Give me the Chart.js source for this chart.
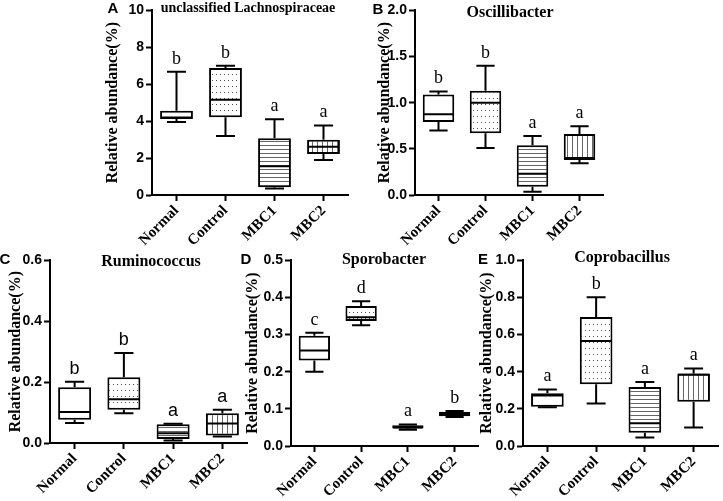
<!DOCTYPE html>
<html>
<head>
<meta charset="utf-8">
<script src="https://cdn.jsdelivr.net/npm/chart.js@4.4.1/dist/chart.umd.min.js"></script>
<style>
  html, body { margin: 0; padding: 0; background: #fff; }
  body { width: 723px; height: 501px; position: relative; overflow: hidden; }
  canvas { position: absolute; }
</style>
</head>
<body>
<canvas id="pA" width="265" height="250" style="left:95px;top:0px"></canvas>
<canvas id="pB" width="255" height="250" style="left:360px;top:0px"></canvas>
<canvas id="pC" width="250" height="251" style="left:0px;top:250px"></canvas>
<canvas id="pD" width="240" height="251" style="left:240px;top:250px"></canvas>
<canvas id="pE" width="247" height="251" style="left:476px;top:250px"></canvas>
<script>
const groups = ["Normal", "Control", "MBC1", "MBC2"];

// A - unclassified Lachnospiraceae
const aMin = [3.95, 3.2, 0.35, 1.9];
const aQ1  = [4.12, 4.21, 0.42, 2.22];
const aMed = [4.2, 5.16, 1.56, 2.61];
const aQ3  = [4.57, 6.88, 3.07, 2.99];
const aMax = [6.67, 7.0, 4.1, 3.77];
const aSig = ["b", "b", "a", "a"];

// B - Oscillibacter
const bMin = [0.70, 0.51, 0.035, 0.345];
const bQ1  = [0.79, 0.67, 0.09, 0.38];
const bMed = [0.875, 1.0, 0.23, 0.40];
const bQ3  = [1.09, 1.13, 0.54, 0.66];
const bMax = [1.12, 1.40, 0.64, 0.745];
const bSig = ["b", "b", "a", "a"];

// C - Ruminococcus
const cMin = [0.066, 0.098, 0.008, 0.021];
const cQ1  = [0.076, 0.109, 0.013, 0.025];
const cMed = [0.102, 0.144, 0.032, 0.064];
const cQ3  = [0.183, 0.216, 0.062, 0.098];
const cMax = [0.201, 0.296, 0.063, 0.109];
const cSig = ["b", "b", "a", "a"];

// D - Sporobacter
const dMin = [0.20, 0.325, 0.044, 0.078];
const dQ1  = [0.23, 0.337, 0.047, 0.080];
const dMed = [0.257, 0.347, 0.050, 0.086];
const dQ3  = [0.297, 0.377, 0.056, 0.092];
const dMax = [0.305, 0.39, 0.058, 0.094];
const dSig = ["c", "d", "a", "b"];

// E - Coprobacillus
const eMin = [0.209, 0.229, 0.046, 0.10];
const eQ1  = [0.212, 0.333, 0.071, 0.238];
const eMed = [0.272, 0.566, 0.122, 0.384];
const eQ3  = [0.284, 0.695, 0.318, 0.39];
const eMax = [0.305, 0.802, 0.345, 0.418];
const eSig = ["a", "b", "a", "a"];

const yTop  = [10, 2.0, 0.6, 0.5, 1.0];
const yStep = [2, 0.5, 0.2, 0.1, 0.2];
const yDec  = [0, 1, 1, 1, 1];
const titles = ["unclassified Lachnospiraceae", "Oscillibacter", "Ruminococcus", "Sporobacter", "Coprobacillus"];
const panelLetters = ["A", "B", "C", "D", "E"];

const SERIF = "'Liberation Serif', 'Times New Roman', serif";
const SANS = "'Liberation Sans', Arial, sans-serif";

function makePattern(w, h, draw) {
    const c = document.createElement("canvas");
    c.width = w; c.height = h;
    const g = c.getContext("2d");
    g.fillStyle = "#fff";
    g.fillRect(0, 0, w, h);
    draw(g);
    return g.createPattern(c, "repeat");
}
const dots = makePattern(4, 6, g => { g.fillStyle = "#555"; g.fillRect(1, 2, 1, 1); });
const hLines = makePattern(4, 4, g => { g.fillStyle = "#666"; g.fillRect(0, 1, 4, 1); });
const vLines = makePattern(5, 4, g => { g.fillStyle = "#666"; g.fillRect(2, 0, 1, 4); });
const fills = ["#fff", dots, hLines, vLines];

// whiskers, medians, letters and titles
const boxExtras = {
    id: "boxExtras",
    afterDatasetsDraw(chart, args, o) {
        const ctx = chart.ctx;
        const x = chart.scales.x, y = chart.scales.y;
        const meta = chart.getDatasetMeta(0);
        ctx.save();
        ctx.strokeStyle = "#000";
        ctx.lineWidth = 2;
        o.mins.forEach((mn, i) => {
            const bar = meta.data[i];
            const cx = x.getPixelForValue(i);
            const half = bar.width / 2;
            const cap = bar.width * 0.29;
            const yMin = y.getPixelForValue(mn);
            const yMax = y.getPixelForValue(o.maxs[i]);
            const yQ1 = y.getPixelForValue(o.q1s[i]);
            const yQ3 = y.getPixelForValue(o.q3s[i]);
            const yMed = y.getPixelForValue(o.meds[i]);
            ctx.beginPath();
            ctx.moveTo(cx, yQ3); ctx.lineTo(cx, yMax);
            ctx.moveTo(cx - cap, yMax); ctx.lineTo(cx + cap, yMax);
            ctx.moveTo(cx, yQ1); ctx.lineTo(cx, yMin);
            ctx.moveTo(cx - cap, yMin); ctx.lineTo(cx + cap, yMin);
            ctx.moveTo(cx - half + 1, yMed); ctx.lineTo(cx + half - 1, yMed);
            ctx.stroke();
            ctx.fillStyle = "#000";
            ctx.font = o.sigFont;
            ctx.textAlign = "center";
            ctx.textBaseline = "middle";
            ctx.fillText(o.sig[i], cx, yMax - 13);
        });
        ctx.font = o.titleFont;
        ctx.textAlign = "center";
        ctx.textBaseline = "middle";
        ctx.fillText(o.title, o.titleX, o.titleY);
        ctx.font = "bold 15px " + SANS;
        ctx.fillText(o.letter, o.letterX, o.letterY);
        ctx.restore();
    }
};

function makePanel(k, id, mins, q1s, meds, q3s, maxs, sig, lay) {
    const config = {
        type: "bar",
        data: {
            labels: groups,
            datasets: [{
                data: q1s.map((q, i) => [q, q3s[i]]),
                backgroundColor: fills,
                borderColor: "#000",
                borderWidth: 2,
                borderSkipped: false,
                barPercentage: 0.67,
                categoryPercentage: 1
            }]
        },
        plugins: [boxExtras],
        options: {
            responsive: false,
            animation: false,
            events: [],
            layout: { padding: { left: 0, top: lay.padTop, right: lay.padRight, bottom: 0 } },
            scales: {
                x: {
                    offset: true,
                    grid: { display: true, offset: false, drawOnChartArea: false, tickLength: 6, tickWidth: 2, tickColor: "#000" },
                    border: { display: true, color: "#000", width: 2 },
                    ticks: {
                        color: "#000", autoSkip: false, minRotation: 45, maxRotation: 45, padding: 1,
                        font: { family: SERIF, size: 15, weight: "bold" }
                    },
                    afterFit: s => { s.height = lay.xh; }
                },
                y: {
                    min: 0,
                    max: yTop[k],
                    grid: { display: true, drawOnChartArea: false, tickLength: 6, tickWidth: 2, tickColor: "#000" },
                    border: { display: true, color: "#000", width: 2 },
                    ticks: {
                        color: "#000", stepSize: yStep[k], padding: 2,
                        font: { family: SANS, size: 14, weight: "bold" },
                        callback: v => Number(v).toFixed(yDec[k])
                    },
                    title: {
                        display: true,
                        text: "Relative abundance(%)",
                        color: "#000",
                        padding: { top: lay.titlePad, bottom: 0 },
                        font: { family: SERIF, size: 16, weight: "bold" }
                    },
                    afterFit: s => { s.width = lay.yw; }
                }
            },
            plugins: {
                legend: { display: false },
                tooltip: { enabled: false },
                boxExtras: {
                    mins: mins, q1s: q1s, meds: meds, q3s: q3s, maxs: maxs, sig: sig,
                    sigFont: lay.sigFont,
                    title: titles[k], titleFont: lay.titleFont,
                    titleX: lay.titleX, titleY: lay.titleY,
                    letter: panelLetters[k], letterX: lay.letterX, letterY: lay.letterY
                }
            }
        }
    };
    return new Chart(document.getElementById(id), config);
}

const serifSig = "18px " + SERIF;
const sansSig = "18px " + SANS;

makePanel(0, "pA", aMin, aQ1, aMed, aQ3, aMax, aSig,
    { padTop: 7, padRight: 12, xh: 55, yw: 57, titlePad: 8, sigFont: serifSig,
      titleFont: "bold 14px " + SERIF, titleX: 153, titleY: 8, letterX: 18, letterY: 9 });
makePanel(1, "pB", bMin, bQ1, bMed, bQ3, bMax, bSig,
    { padTop: 7, padRight: 12, xh: 55, yw: 55, titlePad: 15, sigFont: serifSig,
      titleFont: "bold 16px " + SERIF, titleX: 150, titleY: 13, letterX: 18, letterY: 10 });
makePanel(2, "pC", cMin, cQ1, cMed, cQ3, cMax, cSig,
    { padTop: 7, padRight: 3, xh: 58, yw: 50, titlePad: 6, sigFont: sansSig,
      titleFont: "bold 16px " + SERIF, titleX: 151, titleY: 12, letterX: 5, letterY: 10 });
makePanel(3, "pD", dMin, dQ1, dMed, dQ3, dMax, dSig,
    { padTop: 8, padRight: 2, xh: 55, yw: 51, titlePad: 3, sigFont: serifSig,
      titleFont: "bold 16px " + SERIF, titleX: 144, titleY: 10, letterX: 6, letterY: 10 });
makePanel(4, "pE", eMin, eQ1, eMed, eQ3, eMax, eSig,
    { padTop: 10, padRight: 5, xh: 55, yw: 47, titlePad: 1, sigFont: serifSig,
      titleFont: "bold 16px " + SERIF, titleX: 146, titleY: 8, letterX: 7, letterY: 10 });
</script>
</body>
</html>
